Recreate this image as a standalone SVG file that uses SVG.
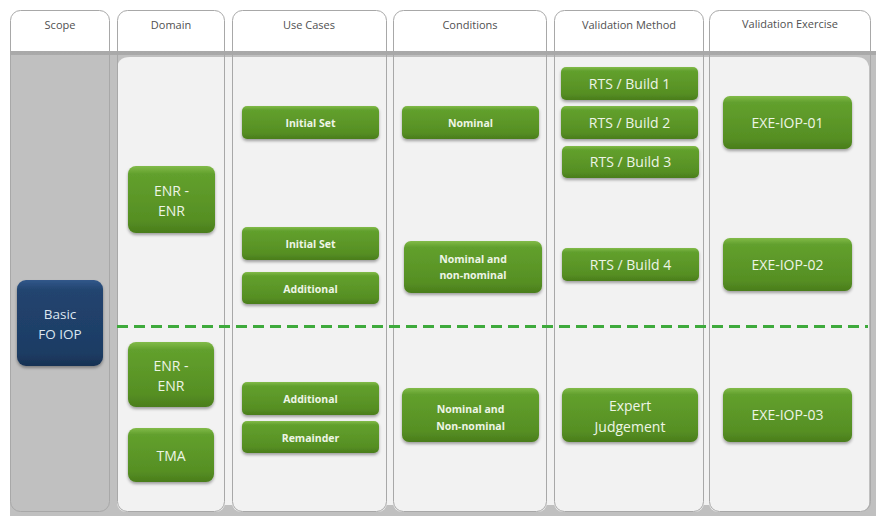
<svg xmlns="http://www.w3.org/2000/svg" width="876" height="516" viewBox="0 0 876 516">
  <defs>
    <linearGradient id="gGreen" x1="0" y1="0" x2="0" y2="1">
      <stop offset="0" stop-color="#82bb49"/>
      <stop offset="0.12" stop-color="#62a02d"/>
      <stop offset="0.8" stop-color="#568f23"/>
      <stop offset="1" stop-color="#4a7d1c"/>
    </linearGradient>
    <linearGradient id="gNavy" x1="0" y1="0" x2="0" y2="1">
      <stop offset="0" stop-color="#31578a"/>
      <stop offset="0.12" stop-color="#22446f"/>
      <stop offset="0.85" stop-color="#1d3c64"/>
      <stop offset="1" stop-color="#173152"/>
    </linearGradient>
    <linearGradient id="gBand" x1="0" y1="0" x2="0" y2="1">
      <stop offset="0" stop-color="#a9a9a9"/>
      <stop offset="0.4" stop-color="#c0c0c0"/>
      <stop offset="1" stop-color="#c0c0c0"/>
    </linearGradient>
    <filter id="shadow" x="-10%" y="-20%" width="120%" height="150%">
      <feDropShadow dx="0" dy="2" stdDeviation="1.5" flood-color="#000" flood-opacity="0.35"/>
    </filter>
    <style>
      .tab { fill: #ffffff; }
      .col { fill: none; stroke: #a8a8a8; stroke-width: 1; }
      .hdr { font-family: "Open Sans", "Liberation Sans", sans-serif; font-size: 11px; fill: #505050; text-anchor: middle; }
      .btn { fill: url(#gGreen); filter: url(#shadow); }
      .navy { fill: url(#gNavy); filter: url(#shadow); }
      .sm { font-family: "Open Sans", "Liberation Sans", sans-serif; font-size: 10.5px; font-weight: bold; fill: #eef5e6; text-anchor: middle; }
      .lg { font-family: "Open Sans", "Liberation Sans", sans-serif; font-size: 14px; fill: #eef5e6; text-anchor: middle; }
      .lgb { font-family: "Open Sans", "Liberation Sans", sans-serif; font-size: 13.5px; fill: #dde6f0; text-anchor: middle; }
      .divider { fill: none; stroke: #3eaa3c; stroke-width: 3; stroke-dasharray: 11 6; }
    </style>
  </defs>

  <rect width="876" height="516" fill="#ffffff"/>

  <!-- column tabs (white header area) -->
  <g id="tabs">
    <rect class="tab" x="10" y="10" width="100" height="502" rx="10"/>
    <rect class="tab" x="117" y="10" width="108" height="502" rx="10"/>
    <rect class="tab" x="232" y="10" width="155" height="502" rx="10"/>
    <rect class="tab" x="393" y="10" width="154" height="502" rx="10"/>
    <rect class="tab" x="554" y="10" width="150" height="502" rx="10"/>
    <rect class="tab" x="709" y="10" width="162" height="502" rx="10"/>
  </g>

  <!-- grey body band -->
  <rect x="10" y="51" width="866" height="465" fill="url(#gBand)"/>
  <rect x="10" y="55" width="866" height="461" fill="#c0c0c0"/>

  <!-- light content panel -->
  <g id="panel" fill="#f2f2f2">
    <path d="M117,70 Q117,57 130,57 L856,57 Q869,57 869,70 L869,505 L117,505 Z"/>
    <rect x="117" y="60" width="108" height="452" rx="9"/>
    <rect x="232" y="60" width="155" height="452" rx="9"/>
    <rect x="393" y="60" width="154" height="452" rx="9"/>
    <rect x="554" y="60" width="150" height="452" rx="9"/>
    <rect x="709" y="60" width="160" height="452" rx="9"/>
  </g>

  <!-- column outlines -->
  <g id="columns">
    <rect class="col" x="10.5" y="10.5" width="99" height="501" rx="10"/>
    <rect class="col" x="117.5" y="10.5" width="107" height="501" rx="10"/>
    <rect class="col" x="232.5" y="10.5" width="154" height="501" rx="10"/>
    <rect class="col" x="393.5" y="10.5" width="153" height="501" rx="10"/>
    <rect class="col" x="554.5" y="10.5" width="149" height="501" rx="10"/>
    <rect class="col" x="709.5" y="10.5" width="161" height="501" rx="10"/>
  </g>

  <!-- column headers -->
  <g id="headers">
    <text class="hdr" x="60" y="29">Scope</text>
    <text class="hdr" x="171" y="29">Domain</text>
    <text class="hdr" x="309" y="29">Use Cases</text>
    <text class="hdr" x="470" y="29">Conditions</text>
    <text class="hdr" x="629" y="29">Validation Method</text>
    <text class="hdr" x="790" y="28">Validation Exercise</text>
  </g>

  <!-- dashed divider between the two phases -->
  <g id="connectors">
    <line class="divider" x1="117" y1="326.5" x2="868" y2="326.5"/>
  </g>

  <!-- scope -->
  <g id="scope-basic-fo-iop">
    <rect class="navy" x="17" y="280" width="86" height="86" rx="9"/>
    <text class="lgb" x="60" y="318.5">Basic</text>
    <text class="lgb" x="60" y="338.5">FO IOP</text>
  </g>

  <!-- domain -->
  <g id="domain-enr-enr-1">
    <rect class="btn" x="128" y="166" width="87" height="67" rx="8"/>
    <text class="lg" x="171.5" y="196">ENR -</text>
    <text class="lg" x="171.5" y="216">ENR</text>
  </g>
  <g id="domain-enr-enr-2">
    <rect class="btn" x="128" y="342" width="86" height="65" rx="8"/>
    <text class="lg" x="171" y="371">ENR -</text>
    <text class="lg" x="171" y="391">ENR</text>
  </g>
  <g id="domain-tma">
    <rect class="btn" x="128" y="428" width="86" height="54" rx="8"/>
    <text class="lg" x="171" y="460.5">TMA</text>
  </g>

  <!-- use cases -->
  <g id="uc-initial-set-1">
    <rect class="btn" x="242" y="106" width="137" height="33" rx="5"/>
    <text class="sm" x="310.5" y="126.5">Initial Set</text>
  </g>
  <g id="uc-initial-set-2">
    <rect class="btn" x="242" y="227" width="137" height="33" rx="5"/>
    <text class="sm" x="310.5" y="247.5">Initial Set</text>
  </g>
  <g id="uc-additional-1">
    <rect class="btn" x="242" y="272" width="137" height="32" rx="5"/>
    <text class="sm" x="310.5" y="292.5">Additional</text>
  </g>
  <g id="uc-additional-2">
    <rect class="btn" x="242" y="382" width="137" height="33" rx="5"/>
    <text class="sm" x="310.5" y="402.5">Additional</text>
  </g>
  <g id="uc-remainder">
    <rect class="btn" x="242" y="421" width="137" height="32" rx="5"/>
    <text class="sm" x="310.5" y="441.5">Remainder</text>
  </g>

  <!-- conditions -->
  <g id="cond-nominal">
    <rect class="btn" x="402" y="106" width="137" height="33" rx="5"/>
    <text class="sm" x="470.5" y="126.5">Nominal</text>
  </g>
  <g id="cond-nominal-non-nominal-1">
    <rect class="btn" x="404" y="241" width="138" height="52" rx="7"/>
    <text class="sm" x="473" y="262.5">Nominal and</text>
    <text class="sm" x="473" y="278.5">non-nominal</text>
  </g>
  <g id="cond-nominal-non-nominal-2">
    <rect class="btn" x="402" y="388" width="137" height="54" rx="7"/>
    <text class="sm" x="470.5" y="412.5">Nominal and</text>
    <text class="sm" x="470.5" y="429.5">Non-nominal</text>
  </g>

  <!-- validation method -->
  <g id="vm-rts-build-1">
    <rect class="btn" x="561" y="67" width="137" height="33" rx="5"/>
    <text class="lg" x="629.5" y="88.5">RTS / Build 1</text>
  </g>
  <g id="vm-rts-build-2">
    <rect class="btn" x="561" y="106" width="137" height="33" rx="5"/>
    <text class="lg" x="629.5" y="127.5">RTS / Build 2</text>
  </g>
  <g id="vm-rts-build-3">
    <rect class="btn" x="562" y="146" width="137" height="32" rx="5"/>
    <text class="lg" x="630.5" y="167">RTS / Build 3</text>
  </g>
  <g id="vm-rts-build-4">
    <rect class="btn" x="562" y="248" width="137" height="33" rx="5"/>
    <text class="lg" x="630.5" y="269.5">RTS / Build 4</text>
  </g>
  <g id="vm-expert-judgement">
    <rect class="btn" x="562" y="388" width="136" height="54" rx="7"/>
    <text class="lg" x="630" y="411">Expert</text>
    <text class="lg" x="630" y="432">Judgement</text>
  </g>

  <!-- validation exercise -->
  <g id="exe-iop-01">
    <rect class="btn" x="723" y="96" width="129" height="53" rx="7"/>
    <text class="lg" x="787.5" y="127.5">EXE-IOP-01</text>
  </g>
  <g id="exe-iop-02">
    <rect class="btn" x="723" y="238" width="129" height="53" rx="7"/>
    <text class="lg" x="787.5" y="269.5">EXE-IOP-02</text>
  </g>
  <g id="exe-iop-03">
    <rect class="btn" x="723" y="388" width="129" height="54" rx="7"/>
    <text class="lg" x="787.5" y="420">EXE-IOP-03</text>
  </g>
</svg>
